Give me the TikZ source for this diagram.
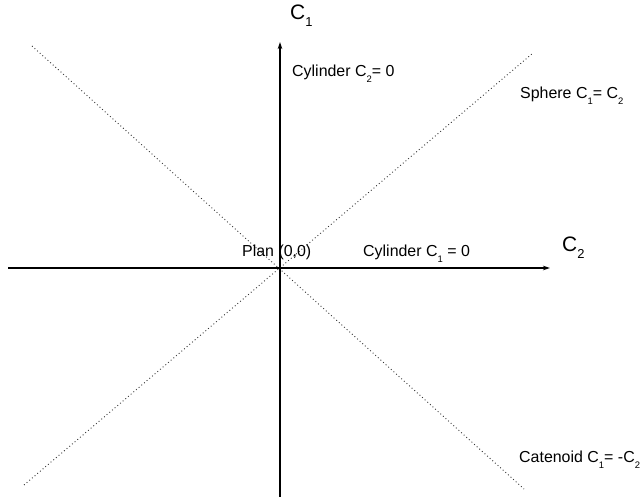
\documentclass[tikz,border=0pt]{standalone}
\usepackage{fontspec}
\setmainfont{Liberation Sans}
\usetikzlibrary{arrows.meta}
% lowered small index, as in C_1
\newcommand\lowidx[1]{\raisebox{-0.32em}{\fontsize{9.5}{9.5}\selectfont #1}}
\newcommand\bigidx[1]{\raisebox{-0.3em}{\fontsize{13}{13}\selectfont #1}}
\begin{document}
\begin{tikzpicture}[x=1bp,y=1bp,
  axis/.style={line width=1.1bp,-{Stealth[length=7bp,width=4.5bp]}},
  diag/.style={line width=0.9bp,dash pattern=on 0.9bp off 2.6bp,black!80},
  lbl/.style={inner sep=0,anchor=base west,font=\fontsize{16}{19}\selectfont},
  axlbl/.style={inner sep=0,anchor=base west,font=\fontsize{21}{24}\selectfont}]
\useasboundingbox (0,0) rectangle (642,500);
% axes
\coordinate (O) at (280,232);
\coordinate (xl) at (8,232);
\coordinate (xr) at (550,232);
\coordinate (yb) at (280,3);
\coordinate (yt) at (280,458);
% diagonals
\coordinate (d1a) at (32,454);
\coordinate (d1b) at (524,11);
\coordinate (d2a) at (24,15);
\coordinate (d2b) at (533,447);
\draw[diag] (d1a) -- (d1b);
\draw[diag] (d2a) -- (d2b);
\draw[axis] (xl) -- (xr);
\draw[axis] (yb) -- (yt);
% labels
\node[axlbl] (c1) at (290,480) {C\bigidx{1}};
\node[axlbl] (c2) at (562,248) {C\bigidx{2}};
\node[lbl] (cyl2) at (292,423) {Cylinder C\lowidx{2}= 0};
\node[lbl] (plan) at (242,243) {Plan (0,0)};
\node[lbl] (cyl1) at (363,243) {Cylinder C\lowidx{1} = 0};
\node[lbl] (sph) at (520,401) {Sphere C\lowidx{1}= C\lowidx{2}};
\node[lbl] (cat) at (519,37) {Catenoid C\lowidx{1}= -C\lowidx{2}};
\end{tikzpicture}
\end{document}
